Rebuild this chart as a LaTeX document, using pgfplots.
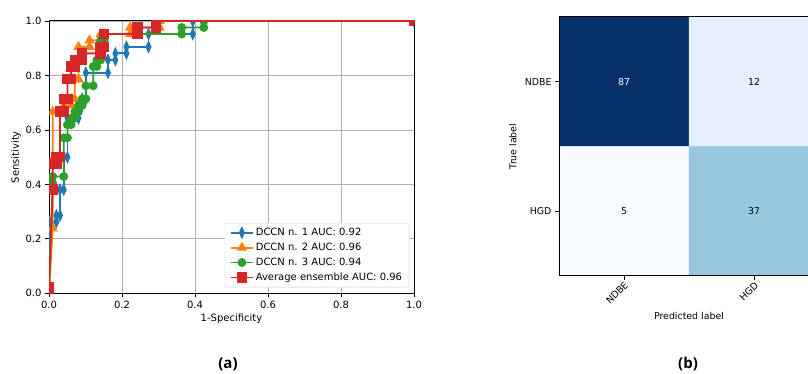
\documentclass[border=0pt]{standalone}
\usepackage{fontspec}
\setmainfont{DejaVu Sans}
\newfontfamily\capfont{Open Sans}
\usepackage{pgfplots}
\pgfplotsset{compat=1.18}
\definecolor{tabblue}{HTML}{1F77B4}
\definecolor{taborange}{HTML}{FF7F0E}
\definecolor{tabgreen}{HTML}{2CA02C}
\definecolor{tabred}{HTML}{D62728}
\definecolor{gridgray}{HTML}{B0B0B0}
\definecolor{leggray}{HTML}{CCCCCC}
\begin{document}
\begin{tikzpicture}[x=1pt,y=1pt]
\path[use as bounding box] (0,0) rectangle (808,374);
\clip (0,0) rectangle (808,374);
% ---------------- (a) ROC ----------------
\begin{axis}[
  at={(49pt,80.7pt)}, anchor=south west,
  width=365pt, height=272.3pt, scale only axis,
  xmin=0, xmax=1, ymin=0, ymax=1,
  xtick={0,0.2,0.4,0.6,0.8,1}, ytick={0,0.2,0.4,0.6,0.8,1},
  grid=major, grid style={color=gridgray, line width=0.8pt},
  axis line style={line width=1pt, black},
  tick pos=left, tick align=outside, major tick length=4pt,
  tick style={black, line width=0.8pt},
  /pgf/number format/assume math mode=true,
  xticklabel style={font=\fontsize{10}{12}\selectfont, /pgf/number format/fixed, /pgf/number format/fixed zerofill, /pgf/number format/precision=1},
  yticklabel style={font=\fontsize{10}{12}\selectfont, /pgf/number format/fixed, /pgf/number format/fixed zerofill, /pgf/number format/precision=1},
  xlabel={1-Specificity}, ylabel={Sensitivity},
  label style={font=\fontsize{10}{12}\selectfont},
  x label style={at={(axis description cs:0.5,-0.094)}, anchor=center},
  y label style={at={(axis description cs:-0.090,0.5)}, anchor=center},
  clip marker paths=true,
  legend cell align=left,
  legend style={at={(0.987,0.022)}, anchor=south east, draw=leggray, rounded corners=2pt,
    fill=white, font=\fontsize{10}{12}\selectfont,
    row sep=2pt, inner xsep=5pt, inner ysep=3pt},
  legend image code/.code={\draw[mark repeat=2,mark phase=2,#1] plot coordinates {(0pt,0pt) (11pt,0pt) (22pt,0pt)};},
  every axis plot/.append style={line width=1.8pt},
]
\addplot[tabblue, mark=diamond*, mark size=4.5pt, mark options={xscale=0.6, solid}] coordinates {
(0,0)(0,0.262)(0.0202,0.262)(0.0202,0.286)(0.0303,0.286)(0.0303,0.381)(0.0404,0.381)(0.0404,0.5)(0.0505,0.5)(0.0505,0.643)(0.0808,0.643)(0.0808,0.690)(0.0909,0.690)(0.0909,0.714)(0.101,0.714)(0.101,0.810)(0.1616,0.810)(0.1616,0.857)(0.1818,0.857)(0.1818,0.881)(0.2121,0.881)(0.2121,0.905)(0.2727,0.905)(0.2727,0.952)(0.3939,0.952)(0.3939,1.0)(1,1)
};
\addlegendentry{DCCN n. 1 AUC: 0.92}
\addplot[taborange, mark=triangle*, mark size=4.2pt] coordinates {
(0,0)(0.0101,0.238)(0.0101,0.667)(0.0404,0.667)(0.0404,0.690)(0.0606,0.690)(0.0606,0.714)(0.0707,0.714)(0.0707,0.786)(0.0808,0.786)(0.0808,0.905)(0.1111,0.905)(0.1111,0.929)(0.1414,0.929)(0.1414,0.952)(0.2222,0.952)(0.2222,0.976)(0.3030,0.976)(0.3030,1.0)(1,1)
};
\addlegendentry{DCCN n. 2 AUC: 0.96}
\addplot[tabgreen, mark=*, mark size=3.5pt] coordinates {
(0,0)(0.0101,0.405)(0.0101,0.429)(0.0404,0.429)(0.0404,0.571)(0.0505,0.571)(0.0505,0.619)(0.0606,0.619)(0.0606,0.643)(0.0707,0.643)(0.0707,0.667)(0.0808,0.667)(0.0808,0.690)(0.0909,0.690)(0.0909,0.714)(0.101,0.714)(0.101,0.762)(0.1212,0.762)(0.1212,0.833)(0.1313,0.833)(0.1313,0.857)(0.1414,0.857)(0.1414,0.929)(0.1515,0.929)(0.1515,0.952)(0.3636,0.952)(0.3636,0.976)(0.4242,0.976)(0.4242,1.0)(1,1)
};
\addlegendentry{DCCN n. 3 AUC: 0.94}
\addplot[tabred, mark=square*, mark size=4.3pt] coordinates {
(0,0)(0,0.024)(0.0101,0.381)(0.0101,0.476)(0.0202,0.476)(0.0202,0.5)(0.0303,0.5)(0.0303,0.667)(0.0404,0.667)(0.0404,0.714)(0.0505,0.714)(0.0505,0.786)(0.0606,0.786)(0.0606,0.833)(0.0707,0.833)(0.0707,0.857)(0.0909,0.857)(0.0909,0.881)(0.1414,0.881)(0.1414,0.905)(0.1515,0.905)(0.1515,0.952)(0.2424,0.952)(0.2424,0.976)(0.2929,0.976)(0.2929,1.0)(1,1)
};
\addlegendentry{Average ensemble AUC: 0.96}
\end{axis}
% ---------------- (b) confusion matrix ----------------
\begin{axis}[
  at={(559pt,98pt)}, anchor=south west,
  width=260pt, height=259pt, scale only axis,
  xmin=-0.5, xmax=1.5, ymin=-0.5, ymax=1.5, y dir=reverse,
  xtick={0,1}, xticklabels={NDBE,HGD},
  ytick={0,1}, yticklabels={NDBE,HGD},
  tick pos=left, tick align=outside, major tick length=4pt,
  tick style={black, line width=0.8pt},
  axis line style={line width=1pt, black},
  axis on top, enlargelimits=false,
  colormap={cmblues}{rgb255=(247,251,255) rgb255=(222,235,247) rgb255=(198,219,239) rgb255=(158,202,225) rgb255=(107,174,214) rgb255=(66,146,198) rgb255=(33,113,181) rgb255=(8,81,156) rgb255=(8,48,107)},
  point meta min=5, point meta max=87,
  ticklabel style={font=\fontsize{9.4}{11}\selectfont},
  xticklabel style={rotate=45, anchor=north east, inner sep=0.5pt},
  xlabel={Predicted label}, ylabel={True label},
  label style={font=\fontsize{9.4}{11}\selectfont},
  x label style={at={(axis description cs:0.5,-0.156)}, anchor=center},
  y label style={at={(axis description cs:-0.177,0.5)}, anchor=center},
]
\addplot[matrix plot*, mesh/cols=2, point meta=explicit] table[meta=c] {
x y c
0 0 87
1 0 12
0 1 5
1 1 37
};
\node[white, font=\fontsize{9.4}{11}\selectfont] at (axis cs:0,0) {87};
\node[black, font=\fontsize{9.4}{11}\selectfont] at (axis cs:1,0) {12};
\node[black, font=\fontsize{9.4}{11}\selectfont] at (axis cs:0,1) {5};
\node[black, font=\fontsize{9.4}{11}\selectfont] at (axis cs:1,1) {37};
\end{axis}
% captions
\node[font=\capfont\bfseries\fontsize{15}{18}\selectfont] at (228,10) {(a)};
\node[font=\capfont\bfseries\fontsize{15}{18}\selectfont] at (688,10) {(b)};
\end{tikzpicture}
\end{document}
